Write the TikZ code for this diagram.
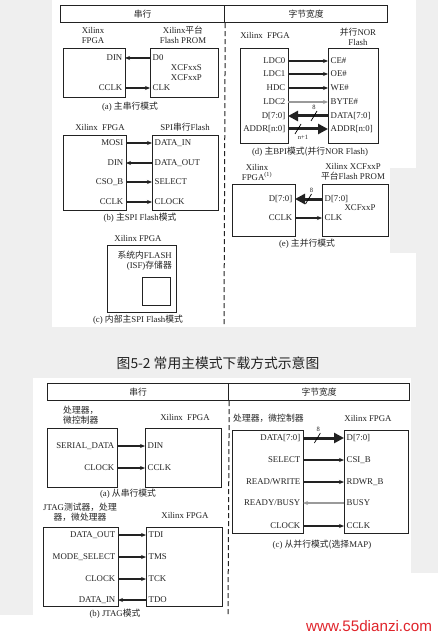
\documentclass[tikz,border=0pt]{standalone}
\usepackage{fontspec}
\setmainfont{Liberation Serif}
\newfontfamily\cjk{Noto Sans CJK SC}
\newfontfamily\wmfont{Liberation Sans}
\usetikzlibrary{positioning,arrows.meta}
\definecolor{ink}{HTML}{222222}
\definecolor{bg}{HTML}{EFEFEF}
\definecolor{faint}{HTML}{9A9A9A}
\definecolor{wmred}{HTML}{E0242B}

\begin{document}
\begin{tikzpicture}[x=1pt,y=-1pt,
font=\fontsize{8.8}{10}\selectfont, text=ink,
chip/.style={draw=ink, line width=1.2pt, anchor=north west, inner sep=0pt},
hdr/.style={draw=ink, line width=1.2pt, anchor=north west, inner sep=0pt, minimum height=17pt},
pinl/.style={anchor=east, inner sep=2.5pt, text height=6.3pt, text depth=1.9pt},
pinr/.style={anchor=west, inner sep=2.5pt, text height=6.3pt, text depth=1.9pt},
sig/.style={-{Stealth[length=5pt,width=4pt]}, draw=ink, line width=1.1pt},
dim/.style={sig, draw=faint},
bus/.style={-{Triangle[length=10pt,width=10pt]}, draw=ink, line width=3pt},
lbl/.style={align=center, inner sep=1pt},
wnum/.style={inner sep=0pt, font=\fontsize{6.5}{7}\selectfont},
sep/.style={draw=ink, line width=1pt, dash pattern=on 5pt off 3pt}
]
\useasboundingbox (0,0) rectangle (438,639);
% background and panels
\fill[white] (0,0) rectangle (438,639);
\fill[bg] (0,0) rectangle (438,378);
\fill[bg] (0,378) rectangle (33,615);
\fill[bg] (411,378) rectangle (438,573);
\fill[white] (52,0) rectangle (416,327);
\fill[bg] (390,168) rectangle (416,253);
\fill[white] (33,378) rectangle (411,615);

% ---------- master modes ----------
\node[hdr, minimum width=164pt] (hd-ser) at (60,5) {{\cjk 串行}};
\node[hdr, minimum width=163pt] (hd-par) at (224,5) {{\cjk 字节宽度}};
\coordinate (sep-top) at (224,327);
\draw[sep] (hd-ser.south east) -- (sep-top);

% (a) master serial
\node[lbl] (a-l1) at (93,35) {Xilinx\\FPGA};
\node[lbl] (a-l2) at (183,35) {Xilinx{\cjk 平台}\\Flash PROM};
\node[chip, minimum width=62pt, minimum height=49pt] (a-fpga) at (63,48) {};
\node[chip, minimum width=68pt, minimum height=49pt] (a-prom) at (150,48) {};
\node[pinl] (a-din) at (125,58) {DIN};
\node[pinr] (a-d0) at (150,58) {D0};
\node[pinl] (a-cclk) at (125,88) {CCLK};
\node[pinr] (a-clk) at (150,88) {CLK};
\node[lbl, align=right, anchor=east] (a-part) at (203,73) {XCFxxS\\XCFxxP};
\draw[sig] (a-d0.west) -- (a-din.east);
\draw[sig] (a-cclk.east) -- (a-clk.west);
\node[lbl] (a-cap) at (130,107) {(a) {\cjk 主串行模式}};

% (b) master SPI
\node[lbl] (b-l1) at (100,127) {Xilinx\ \ FPGA};
\node[lbl] (b-l2) at (185,127) {SPI{\cjk 串行}Flash};
\node[chip, minimum width=63pt, minimum height=75pt] (b-fpga) at (63,135) {};
\node[chip, minimum width=66pt, minimum height=75pt] (b-flash) at (152,135) {};
\node[pinl] (b-mosi) at (126,143) {MOSI};
\node[pinr] (b-din) at (152,143) {DATA\_IN};
\node[pinl] (b-in) at (126,163) {DIN};
\node[pinr] (b-dout) at (152,163) {DATA\_OUT};
\node[pinl] (b-cso) at (126,182) {CSO\_B};
\node[pinr] (b-sel) at (152,182) {SELECT};
\node[pinl] (b-cclk) at (126,202) {CCLK};
\node[pinr] (b-clock) at (152,202) {CLOCK};
\draw[sig] (b-mosi.east) -- (b-din.west);
\draw[sig] (b-dout.west) -- (b-in.east);
\draw[sig] (b-cso.east) -- (b-sel.west);
\draw[sig] (b-cclk.east) -- (b-clock.west);
\node[lbl] (b-cap) at (140,218) {(b) {\cjk 主}SPI Flash{\cjk 模式}};

% (c) internal SPI
\node[lbl] (c-l1) at (138,238) {Xilinx FPGA};
\node[chip, minimum width=69pt, minimum height=67pt] (c-fpga) at (107,245) {};
\node[lbl, align=right, anchor=north east] (c-isftext) at (173,250) {{\cjk 系统内}FLASH\\(ISF){\cjk 存储器}};
\node[chip, minimum width=28pt, minimum height=28pt] (c-isf) at (142,277) {};
\node[lbl] (c-cap) at (138,320) {(c) {\cjk 内部主}SPI Flash{\cjk 模式}};

% (d) master BPI
\node[lbl] (d-l1) at (265,35) {Xilinx\ \ FPGA};
\node[lbl] (d-l2) at (358,37) {{\cjk 并行}NOR\\Flash};
\node[chip, minimum width=48pt, minimum height=95pt] (d-fpga) at (240,48) {};
\node[chip, minimum width=50pt, minimum height=95pt] (d-flash) at (328,48) {};
\node[pinl] (d-ldc0) at (288,61) {LDC0};
\node[pinr] (d-ce) at (328,61) {CE\#};
\node[pinl] (d-ldc1) at (288,74) {LDC1};
\node[pinr] (d-oe) at (328,74) {OE\#};
\node[pinl] (d-hdc) at (288,88) {HDC};
\node[pinr] (d-we) at (328,88) {WE\#};
\node[pinl] (d-ldc2) at (288,102) {LDC2};
\node[pinr] (d-byte) at (328,102) {BYTE\#};
\node[pinl] (d-d70) at (288,116) {D[7:0]};
\node[pinr] (d-data) at (328,116) {DATA[7:0]};
\node[pinl] (d-addr) at (288,129) {ADDR[n:0]};
\node[pinr] (d-faddr) at (328,129) {ADDR[n:0]};
\draw[sig] (d-ldc0.east) -- (d-ce.west);
\draw[sig] (d-ldc1.east) -- (d-oe.west);
\draw[sig] (d-hdc.east) -- (d-we.west);
\draw[dim] (d-ldc2.east) -- (d-byte.west);
\draw[bus] (d-data.west) -- coordinate[pos=0.35] (d-w8) (d-d70.east);
\draw[line width=0.7pt] ([shift={(-3,5)}]d-w8) -- ([shift={(3,-5)}]d-w8);
\node[wnum] (d-n8) at ([shift={(0,-9)}]d-w8) {8};
\draw[bus] (d-addr.east) -- coordinate[pos=0.25] (d-wn) (d-faddr.west);
\draw[line width=0.7pt] ([shift={(-3,5)}]d-wn) -- ([shift={(3,-5)}]d-wn);
\node[wnum] (d-nn) at ([shift={(5,8)}]d-wn) {n+1};
\node[lbl] (d-cap) at (310,152) {(d) {\cjk 主}BPI{\cjk 模式(并行}NOR Flash)};

% (e) master parallel
\node[lbl] (e-l1) at (257,172) {Xilinx\\FPGA\textsuperscript{(1)}};
\node[lbl] (e-l2) at (353,172) {Xilinx XCFxxP\\{\cjk 平台}Flash PROM};
\node[chip, minimum width=63pt, minimum height=52pt] (e-fpga) at (232,184) {};
\node[chip, minimum width=66pt, minimum height=52pt] (e-prom) at (322,184) {};
\node[pinl] (e-d70) at (295,199) {D[7:0]};
\node[pinr] (e-pd70) at (322,199) {D[7:0]};
\node[pinl] (e-cclk) at (295,218) {CCLK};
\node[pinr] (e-clk) at (322,218) {CLK};
\node[lbl] (e-part) at (360,208) {XCFxxP};
\draw[bus] (e-pd70.west) -- coordinate[pos=0.5] (e-w8) (e-d70.east);
\draw[line width=0.7pt] ([shift={(-3,5)}]e-w8) -- ([shift={(3,-5)}]e-w8);
\node[wnum] (e-n8) at ([shift={(3,-9)}]e-w8) {8};
\draw[sig] (e-cclk.east) -- (e-clk.west);
\node[lbl] (e-cap) at (307,244) {(e) {\cjk 主并行模式}};

% title
\node[inner sep=0pt, font=\cjk\fontsize{13.8}{16}\selectfont, text=ink] (title) at (218,363) {图5-2 常用主模式下载方式示意图};

% ---------- slave modes ----------
\node[hdr, minimum width=181pt] (hs-ser) at (47,383) {{\cjk 串行}};
\node[hdr, minimum width=181pt] (hs-par) at (228,383) {{\cjk 字节宽度}};
\coordinate (sep-bot) at (228,615);
\draw[sep] (hs-ser.south east) -- (sep-bot);

% (a) slave serial
\node[lbl, align=left, anchor=west] (sa-l1) at (62,415) {{\cjk 处理器，}\\{\cjk 微控制器}};
\node[lbl] (sa-l2) at (185,417) {Xilinx\ \ FPGA};
\node[chip, minimum width=70pt, minimum height=59pt] (sa-proc) at (47,428) {};
\node[chip, minimum width=76pt, minimum height=59pt] (sa-fpga) at (145,428) {};
\node[pinl] (sa-sdata) at (117,446) {SERIAL\_DATA};
\node[pinr] (sa-din) at (145,446) {DIN};
\node[pinl] (sa-clock) at (117,468) {CLOCK};
\node[pinr] (sa-cclk) at (145,468) {CCLK};
\draw[sig] (sa-sdata.east) -- (sa-din.west);
\draw[sig] (sa-clock.east) -- (sa-cclk.west);
\node[lbl] (sa-cap) at (128,494) {(a) {\cjk 从串行模式}};

% (b) JTAG
\node[lbl] (sb-l1) at (80,512) {JTAG{\cjk 测试器，处理}\\{\cjk 器，微处理器}};
\node[lbl] (sb-l2) at (185,515) {Xilinx FPGA};
\node[chip, minimum width=75pt, minimum height=79pt] (sb-jtag) at (43,527) {};
\node[chip, minimum width=76pt, minimum height=79pt] (sb-fpga) at (146,527) {};
\node[pinl] (sb-dout) at (118,535) {DATA\_OUT};
\node[pinr] (sb-tdi) at (146,535) {TDI};
\node[pinl] (sb-msel) at (118,557) {MODE\_SELECT};
\node[pinr] (sb-tms) at (146,557) {TMS};
\node[pinl] (sb-clock) at (118,579) {CLOCK};
\node[pinr] (sb-tck) at (146,579) {TCK};
\node[pinl] (sb-din) at (118,600) {DATA\_IN};
\node[pinr] (sb-tdo) at (146,600) {TDO};
\draw[sig] (sb-dout.east) -- (sb-tdi.west);
\draw[sig] (sb-msel.east) -- (sb-tms.west);
\draw[sig] (sb-clock.east) -- (sb-tck.west);
\draw[sig] (sb-tdo.west) -- (sb-din.east);
\node[lbl] (sb-cap) at (115,614) {(b) JTAG{\cjk 模式}};

% (c) slave SelectMAP
\node[lbl, anchor=west] (sc-l1) at (232,418) {{\cjk 处理器，微控制器}};
\node[lbl] (sc-l2) at (368,418) {Xilinx FPGA};
\node[chip, minimum width=71pt, minimum height=103pt] (sc-proc) at (232,430) {};
\node[chip, minimum width=64pt, minimum height=103pt] (sc-fpga) at (344,430) {};
\node[pinl] (sc-data) at (303,438) {DATA[7:0]};
\node[pinr] (sc-d70) at (344,438) {D[7:0]};
\node[pinl] (sc-sel) at (303,460) {SELECT};
\node[pinr] (sc-csi) at (344,460) {CSI\_B};
\node[pinl] (sc-rw) at (303,482) {READ/WRITE};
\node[pinr] (sc-rdwr) at (344,482) {RDWR\_B};
\node[pinl] (sc-rdy) at (303,503) {READY/BUSY};
\node[pinr] (sc-busy) at (344,503) {BUSY};
\node[pinl] (sc-clock) at (303,526) {CLOCK};
\node[pinr] (sc-cclk) at (344,526) {CCLK};
\draw[bus] (sc-data.east) -- coordinate[pos=0.35] (sc-w8) (sc-d70.west);
\draw[line width=0.7pt] ([shift={(-3,5)}]sc-w8) -- ([shift={(3,-5)}]sc-w8);
\node[wnum] (sc-n8) at ([shift={(1,-9)}]sc-w8) {8};
\draw[sig] (sc-sel.east) -- (sc-csi.west);
\draw[sig] (sc-rw.east) -- (sc-rdwr.west);
\draw[dim] (sc-busy.west) -- (sc-rdy.east);
\draw[sig] (sc-clock.east) -- (sc-cclk.west);
\node[lbl] (sc-cap) at (322,545) {(c) {\cjk 从并行模式(选择}MAP)};

% watermark
\node[inner sep=0pt, font=\wmfont\fontsize{15.2}{17}\selectfont, text=wmred] (wm) at (369,626) {www.55dianzi.com};
\end{tikzpicture}
\end{document}
